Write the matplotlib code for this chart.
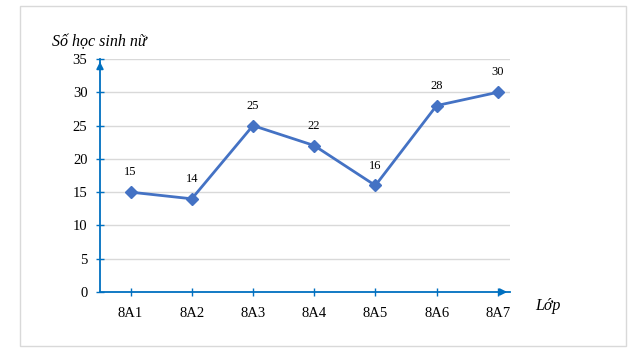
import matplotlib.pyplot as plt
from matplotlib.patches import Rectangle

classes = ["8A1", "8A2", "8A3", "8A4", "8A5", "8A6", "8A7"]
girls = [15, 14, 25, 22, 16, 28, 30]
y_ticks = [0, 5, 10, 15, 20, 25, 30, 35]

plt.rcParams['font.family'] = ['Liberation Serif', 'DejaVu Serif']

fig = plt.figure(figsize=(6.44, 3.54), dpi=100)
# outer chart border
fig.patches.append(Rectangle((20 / 644, 1 - 346 / 354), 606 / 644, 340 / 354,
                             transform=fig.transFigure, fill=False,
                             edgecolor="#D9D9D9", linewidth=1))

ax = fig.add_axes([100 / 644, 1 - 292 / 354, 410 / 644, 233 / 354])
x = list(range(len(classes)))
ax.plot(x, girls, color="#4472C4", linewidth=2, marker="D", markersize=6, zorder=3)
for xi, v in zip(x, girls):
    ax.annotate(str(v), (xi, v), textcoords="offset points", xytext=(0, 10),
                ha="center", va="bottom", fontsize=9)

ax.set_xlim(-0.5, 6.2)
ax.set_ylim(0, 35)
ax.set_yticks(y_ticks)
ax.set_xticks(x)
ax.set_xticklabels(classes)
ax.tick_params(axis="both", labelsize=10.5, direction="inout", length=6,
               color="#0070C0", width=1)
ax.tick_params(axis="x", pad=8)
ax.tick_params(axis="y", pad=6)
ax.grid(axis="y", color="#D9D9D9", linewidth=1)
ax.set_axisbelow(True)
for s in ["top", "right"]:
    ax.spines[s].set_visible(False)
for s in ["left", "bottom"]:
    ax.spines[s].set_color("#0070C0")
    ax.spines[s].set_linewidth(1.3)

# axis arrows
ax.annotate("", xy=(1.0, 0), xytext=(0.97, 0), xycoords="axes fraction",
            arrowprops=dict(arrowstyle="-|>", color="#0070C0", lw=1.3, mutation_scale=10))
ax.annotate("", xy=(0, 1.0), xytext=(0, 0.97), xycoords="axes fraction",
            arrowprops=dict(arrowstyle="-|>", color="#0070C0", lw=1.3, mutation_scale=10))

fig.text(52 / 644, 1 - 42 / 354, "Số học sinh nữ", style="italic", fontsize=11.5,
         ha="left", va="center")
fig.text(535 / 644, 1 - 306 / 354, "Lớp", style="italic", fontsize=11.5,
         ha="left", va="center")

fig.savefig("out.png", dpi=100)
